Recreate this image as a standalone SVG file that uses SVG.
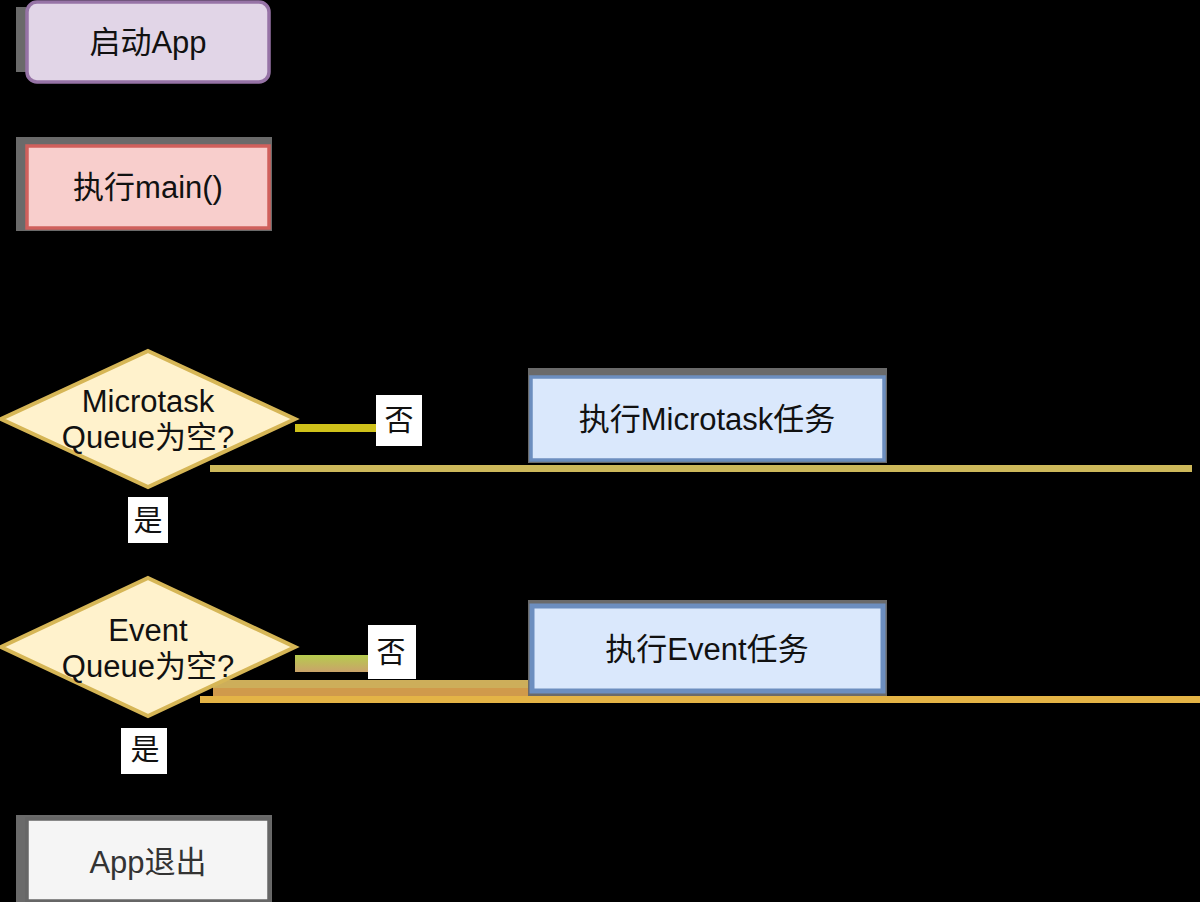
<svg xmlns="http://www.w3.org/2000/svg" width="1200" height="902" viewBox="0 0 1200 902">
<defs>
<style>
.t{font-family:"Liberation Sans","Noto Sans CJK SC",sans-serif;font-size:31px;fill:#111;text-anchor:middle}
.lb{font-family:"Liberation Sans","Noto Sans CJK SC",sans-serif;font-size:29px;fill:#111;text-anchor:middle}
.edge{fill:none;stroke:#000;stroke-width:2}
.sh{fill:#6a6a6a}
</style>
<marker id="arr" viewBox="0 0 10 10" refX="9" refY="5" markerWidth="6" markerHeight="6" orient="auto"><path d="M0,0 L10,5 L0,10 Z" fill="#000"/></marker>
<linearGradient id="g1" x1="0" y1="0" x2="0" y2="1"><stop offset="0" stop-color="#b6cc4e"/><stop offset="1" stop-color="#caa36a"/></linearGradient>
</defs>
<rect x="0" y="0" width="1200" height="902" fill="#000"/>

<g id="connectors">
<path class="edge" d="M148,83 L148,144" marker-end="url(#arr)"/>
<path class="edge" d="M148,229 L148,349" marker-end="url(#arr)"/>
<path class="edge" d="M295,419 L529,419" marker-end="url(#arr)"/>
<path class="edge" d="M884,419 L930,419 L930,290 L148,290"/>
<path class="edge" d="M148,487 L148,575" marker-end="url(#arr)"/>
<path class="edge" d="M295,648 L529,648" marker-end="url(#arr)"/>
<path class="edge" d="M884,648 L960,648 L960,290 L930,290"/>
<path class="edge" d="M148,717 L148,816" marker-end="url(#arr)"/>
</g>

<g id="bands">
<rect x="295" y="424" width="81" height="8" fill="#cfc11a"/>
<rect x="210" y="465" width="982" height="7" fill="#cdb85a"/>
<rect x="295" y="655" width="73" height="17" fill="url(#g1)"/>
<rect x="213" y="680" width="315" height="8" fill="#cdae5a"/>
<rect x="213" y="688" width="315" height="8" fill="#d09a4b"/>
<rect x="200" y="696" width="1000" height="7" fill="#e4b446"/>
</g>

<g id="n-start">
<rect class="sh" x="16" y="7" width="10" height="65"/>
<rect x="27" y="2" width="242" height="80" rx="10" fill="#e1d5e7" stroke="#9673a6" stroke-width="3.5"/>
<text class="t" x="148" y="53">启动App</text>
</g>

<g id="n-main">
<rect class="sh" x="16" y="137" width="256" height="94"/>
<rect x="27" y="146" width="242" height="82" fill="#f8cecc" stroke="#d0605c" stroke-width="3.5"/>
<text class="t" x="148" y="198">执行main()</text>
</g>

<g id="n-microq">
<polygon points="148,351 295,419 148,487 1,419" fill="#fff2cc" stroke="#d6b656" stroke-width="4"/>
<text class="t" x="148" y="412">Microtask</text>
<text class="t" x="148" y="448">Queue为空?</text>
</g>

<g id="n-microtask">
<rect class="sh" x="528" y="368" width="359" height="95"/>
<rect x="531" y="377" width="353" height="83" fill="#dae8fc" stroke="#6c8ebf" stroke-width="3.5"/>
<text class="t" x="707" y="430">执行Microtask任务</text>
</g>

<g id="n-eventq">
<polygon points="148,578 295,647 148,716 1,647" fill="#fff2cc" stroke="#d6b656" stroke-width="4"/>
<text class="t" x="148" y="641">Event</text>
<text class="t" x="148" y="677">Queue为空?</text>
</g>

<g id="n-eventtask">
<rect class="sh" x="528" y="600" width="359" height="96"/>
<rect x="532" y="606" width="351" height="85" fill="#dae8fc" stroke="#6c8ebf" stroke-width="5"/>
<text class="t" x="707" y="660">执行Event任务</text>
</g>

<g id="n-exit">
<rect class="sh" x="16" y="815" width="256" height="87"/>
<rect x="27" y="819" width="242" height="82" fill="#f5f5f5" stroke="#666" stroke-width="3.5"/>
<text class="t" x="148" y="873" style="fill:#333">App退出</text>
</g>

<g id="labels">
<rect x="376" y="395" width="46" height="51" fill="#fff"/>
<text class="lb" x="399" y="431">否</text>
<rect x="128" y="497" width="40" height="46" fill="#fff"/>
<text class="lb" x="148" y="531">是</text>
<rect x="368" y="625" width="48" height="54" fill="#fff"/>
<text class="lb" x="391" y="663">否</text>
<rect x="121" y="728" width="46" height="46" fill="#fff"/>
<text class="lb" x="145" y="760">是</text>
</g>
</svg>
